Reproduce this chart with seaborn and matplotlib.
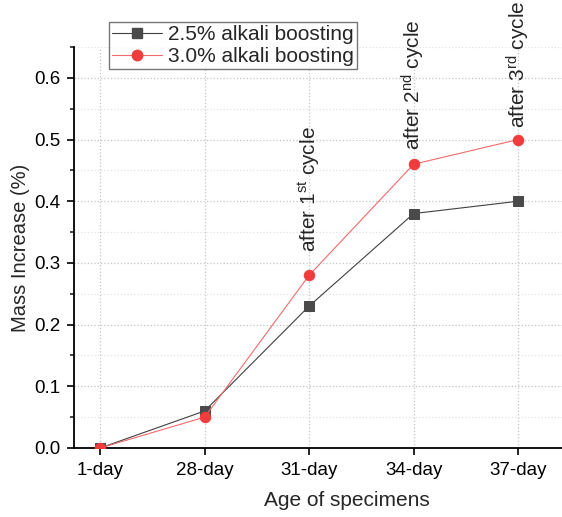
import pandas as pd
import seaborn as sns
import matplotlib.pyplot as plt
from matplotlib.ticker import MultipleLocator
from matplotlib.lines import Line2D

ages = ['1-day', '28-day', '31-day', '34-day', '37-day']
mass_25 = [0.0, 0.06, 0.23, 0.38, 0.40]
mass_30 = [0.0, 0.05, 0.28, 0.46, 0.50]
series_names = ['2.5% alkali boosting', '3.0% alkali boosting']
cycle_ages = ['31-day', '34-day', '37-day']
cycle_labels = ['after 1$^{st}$ cycle', 'after 2$^{nd}$ cycle', 'after 3$^{rd}$ cycle']
cycle_heights = [0.318, 0.483, 0.519]

df = pd.DataFrame({'age': ages * 2,
                   'mass': mass_25 + mass_30,
                   'series': [series_names[0]] * 5 + [series_names[1]] * 5})

sns.set_style('white')
plt.rcParams['font.family'] = ['Liberation Sans', 'DejaVu Sans']
plt.rcParams['mathtext.fontset'] = 'custom'
plt.rcParams['mathtext.rm'] = 'Liberation Sans'
plt.rcParams['mathtext.default'] = 'regular'

fig = plt.figure(figsize=(5.62, 5.17), dpi=100)
ax = fig.add_axes([74/562, 1-448/517, (562-74)/562*1.12, (448-47)/517])

sty = {series_names[0]: dict(line='#404040', mk='#4a4a4a', marker='s'),
       series_names[1]: dict(line='#f26b6b', mk='#f03c3c', marker='o')}
for name in series_names:
    s = sty[name]
    sns.lineplot(data=df[df.series == name], x='age', y='mass', ax=ax,
                 color=s['line'], lw=0.8, marker=s['marker'], markersize=7.5,
                 mfc=s['mk'], mec=s['mk'], legend=False, zorder=3)

ax.set_xlim(-0.25, 4.98)
ax.set_ylim(0, 0.65)
ax.yaxis.set_major_locator(MultipleLocator(0.1))
ax.yaxis.set_minor_locator(MultipleLocator(0.05))
ax.yaxis.set_major_formatter(plt.FuncFormatter(lambda v, p: '%.1f' % v))
ax.grid(True, which='major', ls=':', color='#c4c4c4', lw=0.9)
ax.grid(True, which='minor', axis='y', ls=':', color='#e2e2e2', lw=0.9)
ax.tick_params(which='major', direction='out', length=5, width=1.2, labelsize=13.5,
               bottom=True, left=True, colors='black', pad=5)
ax.tick_params(which='minor', direction='out', length=3, width=1.2, left=True)
for side in ['top', 'right']:
    ax.spines[side].set_visible(False)
for side in ['left', 'bottom']:
    ax.spines[side].set_linewidth(1.3)
    ax.spines[side].set_color('black')

ax.set_xlabel('Age of specimens', fontsize=15, labelpad=9)
ax.set_ylabel('Mass Increase (%)', fontsize=14.5, labelpad=3)

for a, t, h in zip(cycle_ages, cycle_labels, cycle_heights):
    ax.text(ages.index(a), h, t, rotation=90, ha='center', va='bottom',
            fontsize=15, clip_on=False)

handles = [Line2D([], [], color=sty[n]['line'], lw=0.8, marker=sty[n]['marker'],
                  markersize=7.5, mfc=sty[n]['mk'], mec=sty[n]['mk']) for n in series_names]
leg = fig.legend(handles, series_names, loc='upper left',
                 bbox_to_anchor=(109/562, 1-22/517), fontsize=15,
                 handlelength=2.4, frameon=True, fancybox=False,
                 borderpad=0.15, labelspacing=0.15, handletextpad=0.3, borderaxespad=0)
leg.get_frame().set_edgecolor('#555555')
leg.get_frame().set_linewidth(1.0)

fig.savefig('out.png', dpi=100)
